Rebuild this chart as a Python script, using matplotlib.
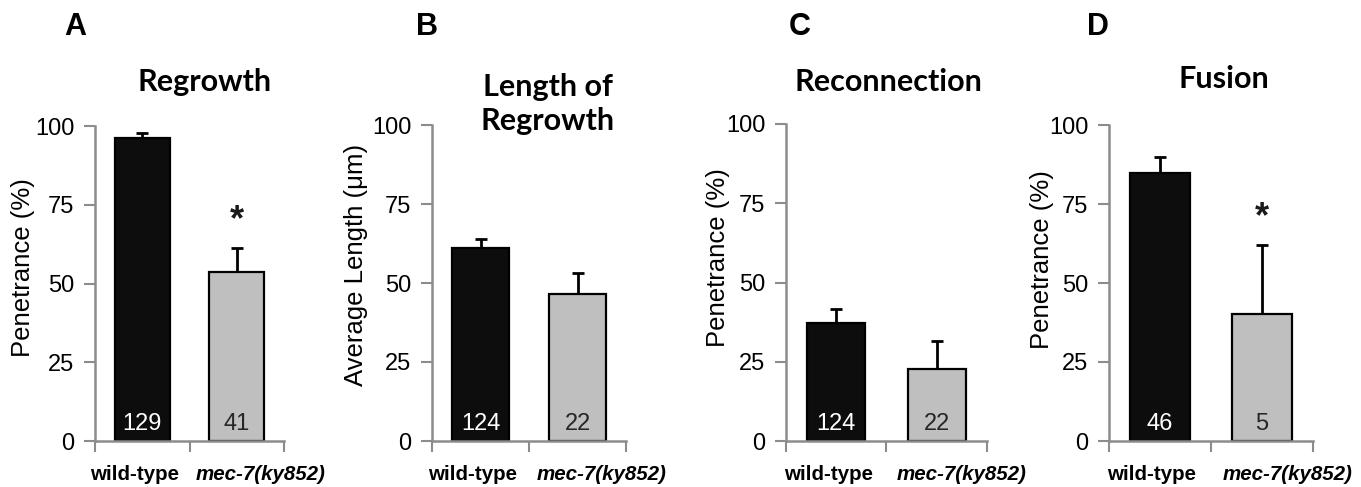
import numpy as np
import matplotlib
matplotlib.use('Agg')
import matplotlib.pyplot as plt

plt.rcParams['font.family'] = ['Liberation Sans', 'DejaVu Sans']

# data
genotypes = ['wild-type', 'mec-7(ky852)']
panel_letters = ['A', 'B', 'C', 'D']
titles = ['Regrowth', 'Length of\nRegrowth', 'Reconnection', 'Fusion']
ylabels = ['Penetrance (%)', 'Average Length (\u03bcm)', 'Penetrance (%)', 'Penetrance (%)']
means = [[96.2, 53.7], [61.0, 46.4], [37.2, 22.7], [84.8, 40.1]]
errs = [[1.6, 7.7], [2.8, 6.9], [4.4, 8.7], [5.0, 21.9]]
counts = [['129', '41'], ['124', '22'], ['124', '22'], ['46', '5']]
signif = [[False, True], [False, False], [False, False], [False, True]]
yticks = [0, 25, 50, 75, 100]

W, H = 1361, 487
fig = plt.figure(figsize=(W / 100, H / 100), dpi=100)

# axes boxes in pixels: left, right, top(y=100), bottom(y=0)
boxes = [(95, 284, 126, 441), (432, 626, 125, 441), (786, 987, 124, 441), (1109, 1313, 125, 441)]
letter_x = [75, 427, 800, 1098]
title_pos = [(205, 82), (548, 104), (888, 82), (1224, 79)]
ylabel_x = [23, 356, 718, 1042]
ylabel_y = [0.552, 0.557, 0.58, 0.575]
bar_colors = ['#0d0d0d', '#bfbfbf']
num_colors = ['white', '#262626']
grey = '#8c8c8c'

for i in range(4):
    l, r, t, b = boxes[i]
    ax = fig.add_axes([l / W, 1 - b / H, (r - l) / W, (b - t) / H])
    x = np.arange(2)
    ax.bar(x, means[i], width=0.58, color=bar_colors, edgecolor='black', linewidth=1.6, zorder=3)
    # only the upper half shows, the bar hides the lower one
    ax.errorbar(x, means[i], yerr=errs[i], fmt='none', ecolor='black',
                elinewidth=2, capsize=4, capthick=2, zorder=2)
    for j in range(2):
        ax.text(x[j], 1.8, counts[i][j], ha='center', va='bottom', fontsize=17,
                color=num_colors[j], zorder=4)
        if signif[i][j]:
            ax.text(x[j], means[i][j] + errs[i][j] + 3, '*', ha='center', va='bottom',
                    fontsize=26, fontweight='bold', color='#1a1a1a')

    ax.set_xlim(-0.5, 1.5)
    ax.set_ylim(0, 100)
    ax.set_yticks(yticks)
    ax.tick_params(axis='y', labelsize=17, length=8, width=1.5, color=grey, pad=7)
    # category boundary ticks on x
    ax.set_xticks([-0.5, 0.5, 1.5])
    ax.set_xticklabels([])
    ax.tick_params(axis='x', which='major', length=8, width=1.5, color=grey)
    ax.set_xticks([-0.08, 1.25], minor=True)
    ax.set_xticklabels(genotypes, minor=True)
    ax.tick_params(axis='x', which='minor', length=0, pad=17, labelsize=14.8)
    minor_labels = ax.get_xticklabels(minor=True)
    minor_labels[0].set_fontweight('bold')
    minor_labels[1].set_fontweight('bold')
    minor_labels[1].set_fontstyle('italic')

    for s in ['top', 'right']:
        ax.spines[s].set_visible(False)
    for s in ['left', 'bottom']:
        ax.spines[s].set_color(grey)
        ax.spines[s].set_linewidth(1.8)
    ax.spines['bottom'].set_zorder(5)

    ax.set_ylabel(ylabels[i], fontsize=18.5)
    # label anchor is the right edge of the rotated text
    ax.yaxis.set_label_coords((ylabel_x[i] + 12 - l) / (r - l), ylabel_y[i])

    fig.text(letter_x[i] / W, 1 - 27 / H, panel_letters[i], ha='center', va='center',
             fontsize=22, fontweight='bold')
    fig.text(title_pos[i][0] / W, 1 - title_pos[i][1] / H, titles[i], ha='center', va='center',
             fontsize=22, fontweight='bold', family=['Lato', 'DejaVu Sans'], linespacing=1.25)

fig.savefig('out.png', dpi=100)
